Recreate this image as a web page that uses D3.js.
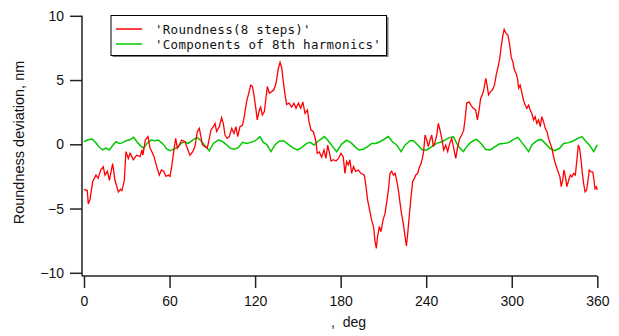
<!DOCTYPE html>
<html><head><meta charset="utf-8">
<script src="https://cdn.jsdelivr.net/npm/d3@7/dist/d3.min.js"></script>
<style>
html,body{margin:0;padding:0;background:#fff;}
svg{display:block;}
</style></head>
<body>
<svg id="chart" width="619" height="336"></svg>
<script>
// ---- data ----
const xTicks = [0, 60, 120, 180, 240, 300, 360];
const yTicks = [-10, -5, 0, 5, 10];
const seriesNames = ["'Roundness(8 steps)'", "'Components of 8th harmonics'"];
const xTitle = ",  deg";
const yTitle = "Roundness deviation, nm";

const redDeg = [0,2.3,3,4.2,6.1,8.4,9.9,11.7,13.5,14.7,16.4,17.8,20.1,21.7,24.1,25.7,26.6,28.3,29.4,31.1,32.3,34.6,36.9,39.3,40.7,41.3,43,44.9,46.3,47.7,49.1,51,52.8,54.3,55.9,57.5,59.1,60.3,61.5,63.1,64.3,65.5,67,68.5,70.8,72.5,74.3,76.2,77.8,79.5,80.9,81.8,83,84.9,86.5,87.9,89,90.7,91.9,93,94.9,96.5,97.7,98.9,100.5,101.9,103.6,105.2,106.6,107.8,109.4,111.2,112.4,114,115.5,116.9,118.1,119.2,120.5,121.5,123,123.9,125.1,126.5,127.6,128.6,130,131.6,133.2,134.7,136.3,137.5,138.6,139.8,141,142.1,143.8,145.7,147.3,148.7,150.4,152,153.5,155,156.7,157.8,159.2,160.9,162.7,163.6,165,166.7,168.3,169.7,170.9,172,173.3,174.9,176.7,178.5,180.2,181.8,183,184.2,185.4,186.5,187.7,189,190.5,192.4,194.2,196.6,197.8,198.9,200.1,201.7,203.1,204,205,206,207.1,208.3,209.7,211.1,212.3,213.5,214.6,215.8,217,218.2,219.3,220.5,221.7,222.8,224,225.2,226.1,227,228,229.4,230.5,231.7,232.6,234,235,236.4,237.3,238.2,239.2,240.4,241.5,242.7,243.9,245,246.2,247.4,248.5,249.7,250.9,252.3,253.7,255.1,256.5,257.9,259.3,260.7,262.1,263.5,264.9,266.3,267.2,268.4,270,271.4,273,274.7,275.9,277.1,278.2,279.4,280.6,281.8,282.7,283.7,285.1,286.5,287.9,289.1,290.2,291.4,292.6,293.8,294.7,295.9,297.3,298.4,299.6,300.8,301.9,303.1,304,304.8,305.9,307.1,308.2,309.4,310.6,311.8,312.9,314.1,315.3,316.4,317.6,318.8,320,321.1,322.3,323.5,324.7,325.8,327,328.2,329.3,330.5,331.7,332.9,333.8,334.7,335.7,336.6,337.6,338.7,339.9,341.1,342.2,343.4,344.6,345.7,346.7,347.6,348.6,349.5,350.4,351.4,352.5,353.5,354.4,355.6,356.8,357.7,358.4,359.3,360];
const redVal = [-3.5,-3.6,-4.65,-4.3,-2.9,-2.4,-2.65,-2.0,-1.74,-2.4,-2.1,-2.8,-1.5,-2.8,-3.7,-3.5,-3.6,-2.8,-0.57,-1.1,-0.7,-1.2,-0.85,-0.96,-0.44,-0.85,0.33,0.6,-0.3,-0.6,-0.96,-1.74,-2.4,-2.0,-2.1,-2.5,-2.4,-2.5,-1.74,-0.44,0.46,-0.3,-0.04,0.33,0.2,-0.3,-0.85,-0.6,-0.18,0.98,1.24,0.72,-0.04,-0.18,-0.3,0.46,1.1,1.37,1.63,1.0,1.37,2.07,1.63,0.72,0.46,0.6,1.24,0.85,1.37,0.6,1.37,1.5,2.15,3.3,3.97,4.6,4.5,3.85,2.8,1.9,2.67,2.9,2.28,2.54,3.58,4.5,3.97,4.1,4.24,4.75,5.9,6.38,6.0,4.87,3.85,3.1,3.2,2.9,3.2,2.8,3.2,2.8,3.3,2.4,2.67,1.76,1.1,0.98,0.2,-0.7,-0.6,-1.0,-0.44,-1.1,-0.07,-0.6,-1.3,-1.2,-1.3,-1.1,-0.7,-0.96,-2.26,-1.35,-1.6,-1.2,-2.26,-1.74,-2.1,-2.0,-2.26,-2.4,-3.3,-4.33,-4.98,-5.9,-6.4,-7.45,-8.1,-7.1,-6.4,-6.8,-5.9,-5.4,-4.5,-3.56,-2.26,-2.1,-2.4,-2.26,-2.8,-3.56,-4.6,-5.5,-6.2,-7.2,-7.9,-7.0,-5.7,-4.07,-2.9,-2.65,-2.4,-2.26,-1.87,-1.5,-1.1,-0.57,0.72,0.33,-0.18,0.33,0.72,-0.18,0.2,0.72,1.63,1.1,0.46,-0.44,-0.07,-0.57,0.07,0.46,-0.3,-1.1,-0.18,0.46,0.72,1.1,1.9,3.2,3.3,3.05,2.8,2.67,1.9,2.67,3.58,3.85,4.37,5.14,4.6,3.85,4.1,4.24,4.6,5.4,5.9,6.56,7.6,8.5,8.95,8.65,8.5,7.85,6.8,6.4,5.78,5.5,5.14,4.37,4.6,4.0,3.45,3.05,2.8,3.05,2.67,2.4,1.9,2.15,1.63,1.9,1.37,2.15,1.76,1.24,0.98,0.46,0.07,-0.33,-0.96,-1.48,-1.87,-2.26,-2.54,-3.3,-2.8,-2.0,-2.54,-3.3,-2.8,-2.4,-2.54,-2.26,-2.4,-1.2,-0.05,-0.33,-1.2,-2.26,-3.05,-3.7,-3.56,-2.8,-2.0,-2.15,-2.15,-2.8,-3.45,-3.3,-3.56];

const greenDeg = [0,2.3,5.8,8.4,10.8,13.1,15.4,17.8,20.1,22.4,24.8,27.1,29.4,31.8,34.8,37.1,39.5,41.8,44.2,47,49.8,52.1,55.2,58.2,60.6,62.9,65.7,68,70.4,73.2,76.2,79.2,81.6,84.4,87.9,90.7,94.2,96.5,99.6,102.4,105.2,108.2,111.2,114,116.9,119.9,123.4,125.8,128.1,131.1,133.9,137,140.2,143.3,146.8,149.6,152.6,156.2,158.5,161.3,164.4,168.6,171.4,174.4,177.2,180.7,184.2,187.2,190,192.8,195.9,198.9,201.7,204.5,207.6,213.5,216.3,219.3,222.4,225.2,228.7,231.1,234.1,237.3,240.4,243.9,247.4,250.9,255.1,259.1,262.6,266.1,268.4,270.5,273,275.3,278.8,281.8,284.8,288.4,291.1,294.3,297.8,301.3,304.3,307.1,309.4,311.8,314.1,317.6,320.6,323.5,327,330,333.3,336.4,339.9,343.4,346.4,349.3,351.6,354.4,357.5,360];
const greenVal = [0.2,0.33,0.41,0.1,-0.23,-0.44,-0.3,-0.44,-0.1,0.2,0.07,0.13,0.28,0.33,0.54,0.2,-0.1,-0.3,0.07,0.33,0.28,0.33,0.05,-0.38,-0.5,-0.38,-0.23,0.07,0.2,0.07,0.33,0.54,0.33,-0.05,-0.5,0.07,0.33,0.26,0.0,-0.3,-0.38,-0.26,0.15,0.07,0.15,0.26,0.6,0.15,0.0,-0.57,-0.05,0.26,0.26,0.0,-0.3,-0.44,-0.26,0.07,0.15,-0.05,0.26,0.6,0.26,-0.18,-0.57,0.02,0.33,0.13,-0.18,-0.44,-0.38,-0.18,0.07,0.07,0.2,0.6,0.2,-0.05,-0.57,-0.05,0.28,0.28,-0.05,-0.44,-0.44,-0.18,0.07,0.2,0.46,0.6,-0.18,-0.57,-0.18,0.07,0.28,0.38,0.02,-0.4,-0.44,-0.18,0.02,0.07,0.13,0.38,0.54,0.13,-0.18,-0.57,-0.05,0.28,0.38,0.07,-0.33,-0.5,-0.33,0.07,0.13,0.28,0.46,0.6,0.28,-0.05,-0.57,-0.05];

const seriesColors = ["#ff0000", "#00c800"];

// ---- chart ----
const svg = d3.select("#chart");
const x = d3.scaleLinear().domain([0, 360]).range([84, 597.3]);
const y = d3.scaleLinear().domain([-10, 10]).range([272.8, 15.8]);
const axisColor = "#222";
const axisX0 = 82, axisY0 = 276;
const sansFont = "Liberation Sans, Arial, sans-serif";

const lineGen = d3.line().x(d => x(d[0])).y(d => y(d[1]));
const redPts = redDeg.map((d, i) => [d, redVal[i]]);
const greenPts = greenDeg.map((d, i) => [d, greenVal[i]]);

svg.append("path").datum(greenPts).attr("d", lineGen)
  .attr("fill", "none").attr("stroke", seriesColors[1]).attr("stroke-width", 1.5);
svg.append("path").datum(redPts).attr("d", lineGen)
  .attr("fill", "none").attr("stroke", seriesColors[0]).attr("stroke-width", 1.3);

// y axis
const yAxisG = svg.append("g").attr("transform", `translate(${axisX0},0)`)
  .call(d3.axisLeft(y).tickValues(yTicks).tickSize(12).tickPadding(6).tickSizeOuter(0));
yAxisG.select(".domain").remove();
yAxisG.selectAll(".tick line").attr("stroke", axisColor).attr("stroke-width", 1.5);
yAxisG.selectAll(".tick text").attr("font-family", sansFont)
  .attr("font-size", 14).attr("fill", "#111");
svg.append("line").attr("x1", axisX0).attr("x2", axisX0).attr("y1", y(10)).attr("y2", axisY0)
  .attr("stroke", axisColor).attr("stroke-width", 1.5);

// x axis
const xAxisG = svg.append("g").attr("transform", `translate(0,${axisY0})`)
  .call(d3.axisBottom(x).tickValues(xTicks).tickSize(12).tickPadding(8).tickSizeOuter(0));
xAxisG.select(".domain").remove();
xAxisG.selectAll(".tick line").attr("stroke", axisColor).attr("stroke-width", 1.5);
xAxisG.selectAll(".tick text").attr("font-family", sansFont)
  .attr("font-size", 14).attr("fill", "#111");
svg.append("line").attr("x1", axisX0).attr("x2", x(360)).attr("y1", axisY0).attr("y2", axisY0)
  .attr("stroke", axisColor).attr("stroke-width", 1.5);

// titles
svg.append("text").attr("x", 331).attr("y", 327).attr("font-family", sansFont)
  .attr("font-size", 14).attr("fill", "#111").style("white-space", "pre").text(xTitle);
svg.append("text").attr("transform", "translate(24,142.5) rotate(-90)")
  .attr("text-anchor", "middle").attr("font-family", sansFont)
  .attr("font-size", 14.5).attr("fill", "#111").text(yTitle);

// legend
const lg = svg.append("g");
lg.append("rect").attr("x", 112.5).attr("y", 17).attr("width", 276).attr("height", 40).attr("fill", "#777");
lg.append("rect").attr("x", 111).attr("y", 15.5).attr("width", 275.5).attr("height", 40)
  .attr("fill", "#fff").attr("stroke", "#000").attr("stroke-width", 1);
seriesNames.forEach((name, i) => {
  const ly = 29 + i * 15;
  lg.append("line").attr("x1", 116).attr("x2", 142).attr("y1", ly).attr("y2", ly)
    .attr("stroke", seriesColors[i]).attr("stroke-width", 1.5);
  lg.append("text").attr("x", 155).attr("y", ly + 5)
    .attr("font-family", "DejaVu Sans Mono, monospace")
    .attr("font-size", 12.5).attr("letter-spacing", 0.27)
    .attr("fill", "#111").style("white-space", "pre").text(name);
});
</script>
</body></html>
